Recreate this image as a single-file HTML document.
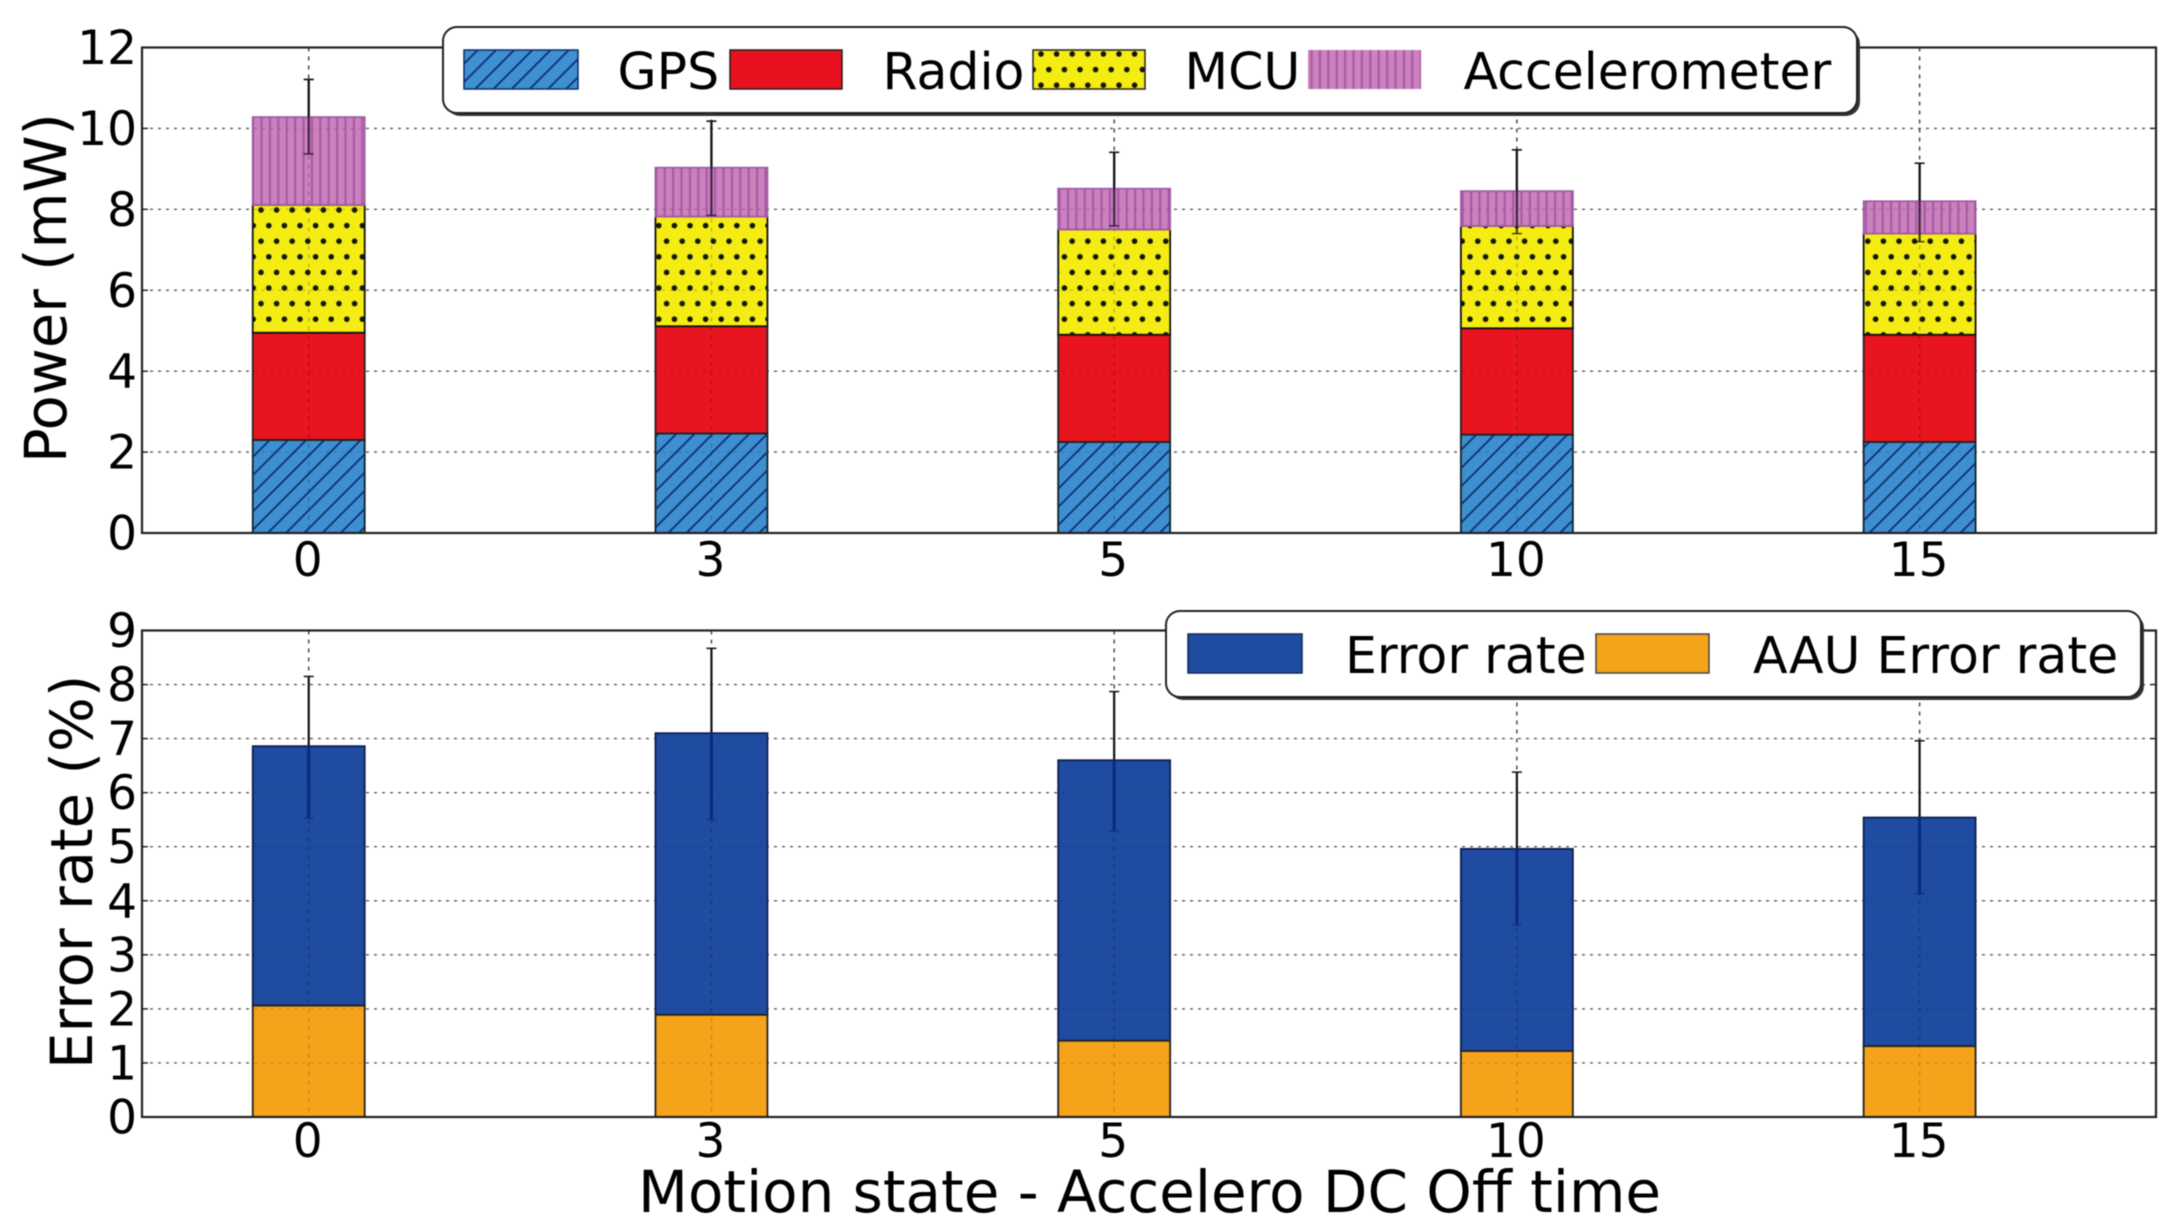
<!DOCTYPE html>
<html lang="en">
<head>
<meta charset="utf-8">
<title>Power and error rate vs accelerometer duty-cycle off time</title>
<style>
  html, body { margin: 0; padding: 0; background: #ffffff; }
  svg { display: block; filter: blur(0.6px); }
  text { font-family: "DejaVu Sans", "Liberation Sans", sans-serif; fill: #000; }
</style>
</head>
<body>
<svg id="figure" xmlns="http://www.w3.org/2000/svg" width="2179" height="1231" viewBox="0 0 2179 1231">
  <defs>
    <pattern id="hatch-gps" patternUnits="userSpaceOnUse" width="18.2" height="18.2">
      <path d="M-3,3 L3,-3 M0,18.2 L18.2,0 M15.2,21.2 L21.2,15.2" stroke="#0b2f6b" stroke-width="1.8" fill="none"/>
    </pattern>
    <pattern id="hatch-mcu" patternUnits="userSpaceOnUse" width="15.6" height="31.2" patternTransform="translate(257.1,202.2)">
      <circle cx="3.9" cy="7.8" r="2.8" fill="#15150a"/>
      <circle cx="11.7" cy="23.4" r="2.8" fill="#15150a"/>
    </pattern>
    <pattern id="hatch-accel" patternUnits="userSpaceOnUse" width="8.4" height="8.4">
      <rect x="0" y="0" width="2.2" height="8.4" fill="#a04aa0" fill-opacity="0.75"/>
    </pattern>
  </defs>
  <rect x="0" y="0" width="2179" height="1231" fill="#ffffff"/>
  <g id="power-chart"></g>
  <g id="error-chart"></g>

  <text transform="translate(66,463) rotate(-90)" font-size="57.5">Power (mW)</text>
  <text transform="translate(92,1069) rotate(-90)" font-size="57.7">Error rate (%)</text>
  <text x="638" y="1212" font-size="57.9">Motion state - Accelero DC Off time</text>

  <g>
    <rect x="446" y="30" width="1414" height="86" rx="14" fill="#333333"/>
    <rect x="443" y="27" width="1414" height="86" rx="14" fill="#ffffff" stroke="#222" stroke-width="2"/>
    <g>
      <rect x="464" y="50" width="114" height="39" fill="#3f8fd2"/>
      <rect x="464" y="50" width="114" height="39" fill="url(#hatch-gps)" stroke="#0b2f6b" stroke-width="1.5"/>
      <text x="617.5" y="89" font-size="50.5">GPS</text>
    </g>
    <g>
      <rect x="730" y="50" width="112" height="39" fill="#e8111f" stroke="#222" stroke-width="1.5"/>
      <text x="882.5" y="89" font-size="50.5">Radio</text>
    </g>
    <g>
      <rect x="1033" y="50" width="112" height="39" fill="#f5ec12"/>
      <rect x="1033" y="50" width="112" height="39" fill="url(#hatch-mcu)" stroke="#222" stroke-width="1.5"/>
      <text x="1184.5" y="89" font-size="50.5">MCU</text>
    </g>
    <g>
      <rect x="1308" y="50" width="113" height="39" fill="#cb82bd"/>
      <rect x="1308" y="50" width="113" height="39" fill="url(#hatch-accel)"/>
      <text x="1463.5" y="89" font-size="50.5">Accelerometer</text>
    </g>
  </g>

  <g>
    <rect x="1169" y="614" width="975" height="86" rx="14" fill="#333333"/>
    <rect x="1166" y="611" width="975" height="86" rx="14" fill="#ffffff" stroke="#222" stroke-width="2"/>
    <g>
      <rect x="1188" y="634" width="114" height="39" fill="#1f4ca0" stroke="#10285a" stroke-width="1.5"/>
      <text x="1345" y="673" font-size="50.5">Error rate</text>
    </g>
    <g>
      <rect x="1596" y="634" width="113" height="39" fill="#f5a31a" stroke="#444" stroke-width="1.5"/>
      <text x="1753" y="673" font-size="50.5">AAU Error rate</text>
    </g>
  </g>
</svg>

<script>
const categories = ['0', '3', '5', '10', '15'];

const gpsPower = [2.30, 2.46, 2.25, 2.43, 2.25];
const radioPower = [2.65, 2.65, 2.65, 2.63, 2.65];
const mcuPower = [3.16, 2.71, 2.60, 2.53, 2.50];
const accelPower = [2.17, 1.21, 1.01, 0.86, 0.80];
const powerErrLow = [9.37, 7.85, 7.59, 7.40, 7.20];
const powerErrHigh = [11.21, 10.18, 9.41, 9.47, 9.14];
const powerTicks = [0, 2, 4, 6, 8, 10, 12];

const errorRate = [6.86, 7.10, 6.60, 4.96, 5.54];
const aauErrorRate = [2.06, 1.89, 1.41, 1.22, 1.31];
const rateErrLow = [5.53, 5.50, 5.29, 3.55, 4.13];
const rateErrHigh = [8.15, 8.67, 7.87, 6.38, 6.96];
const rateTicks = [0, 1, 2, 3, 4, 5, 6, 7, 8, 9];

const NS = 'http://www.w3.org/2000/svg';
const plotLeft = 142, plotRight = 2156;
const barWidthIdx = 0.278;
const xDomain = [-0.414, 4.587];

function xPos(i) {
  return plotLeft + (i - xDomain[0]) / (xDomain[1] - xDomain[0]) * (plotRight - plotLeft);
}
function makeY(top, bottom, max) {
  return function (v) { return bottom - v / max * (bottom - top); };
}
function mk(parent, tag, attrs, text) {
  const el = document.createElementNS(NS, tag);
  for (const k in attrs) el.setAttribute(k, attrs[k]);
  if (text !== undefined) el.textContent = text;
  parent.appendChild(el);
  return el;
}
function drawGrid(g, y, ticks, top, bottom, opacity) {
  ticks.forEach(function (t) {
    if (t === ticks[0] || t === ticks[ticks.length - 1]) return;
    const el = mk(g, 'line', { x1: plotLeft, x2: plotRight, y1: y(t), y2: y(t), stroke: '#555555', 'stroke-width': 1.4, 'stroke-dasharray': '3 5', 'stroke-opacity': opacity });
    
    
  });
  categories.forEach(function (c, i) {
    const el = mk(g, 'line', { x1: xPos(i), x2: xPos(i), y1: top, y2: bottom, stroke: '#333333', 'stroke-width': 1.4, 'stroke-dasharray': '4 5', 'stroke-opacity': opacity });
    
    
  });
}
function drawErrorBar(g, i, y, lo, hi, color, opacity) {
  const cx = xPos(i);
  const line = mk(g, 'line', { x1: cx, x2: cx, y1: y(lo), y2: y(hi), stroke: color, 'stroke-width': 2.2, 'stroke-opacity': opacity });
  
  
  const capHi = mk(g, 'line', { x1: cx - 5, x2: cx + 5, y1: y(hi), y2: y(hi), stroke: color, 'stroke-width': 1.5, 'stroke-opacity': opacity });
  
  
  const capLo = mk(g, 'line', { x1: cx - 5, x2: cx + 5, y1: y(lo), y2: y(lo), stroke: color, 'stroke-width': 1.5, 'stroke-opacity': opacity });
  
  
}
function drawSegment(g, i, y, base, val, fill, hatch, edge, name) {
  const w = barWidthIdx * (xPos(1) - xPos(0));
  const px = xPos(i) - w / 2;
  const py = y(base + val);
  const h = y(base) - y(base + val);
  const r = mk(g, 'rect', { x: px, y: py, width: w, height: h, fill: fill, 'fill-opacity': 0.92, stroke: edge, 'stroke-width': 1.8 });
  
  
  if (hatch) {
    const o = mk(g, 'rect', { x: px, y: py, width: w, height: h, fill: hatch });
    
    
  }
}
function drawAxes(g, y, ticks, top, bottom, tickBaseline) {
  const frame = mk(g, 'rect', { x: plotLeft, y: top, width: plotRight - plotLeft, height: bottom - top, fill: 'none', stroke: '#222', 'stroke-width': 2.2 });
  
  
  ticks.forEach(function (t) {
    const lab = mk(g, 'text', { x: 137, y: y(t) + 16.5, 'font-size': 47, 'text-anchor': 'end' }, String(t));
    
    
    const tl = mk(g, 'line', { x1: plotLeft, x2: plotLeft + 6, y1: y(t), y2: y(t), stroke: '#222', 'stroke-width': 1.4 });
    
    
    const tr = mk(g, 'line', { x1: plotRight - 6, x2: plotRight, y1: y(t), y2: y(t), stroke: '#222', 'stroke-width': 1.4 });
    
    
  });
  categories.forEach(function (c, i) {
    const lab = mk(g, 'text', { x: xPos(i) - 1, y: tickBaseline, 'font-size': 47, 'text-anchor': 'middle' }, c);
    
    
  });
}

/* Power chart */
(function () {
  const g = document.getElementById('power-chart');
  const top = 47.5, bottom = 533;
  const y = makeY(top, bottom, 12);
  drawGrid(g, y, powerTicks, top, bottom, 0.9);
  categories.forEach(function (c, i) {
    drawErrorBar(g, i, y, powerErrLow[i], powerErrHigh[i], '#111', 1);
  });
  categories.forEach(function (c, i) {
    let base = 0;
    drawSegment(g, i, y, base, gpsPower[i], '#2e85ce', 'url(#hatch-gps)', '#122', 'bar-gps');
    base += gpsPower[i];
    drawSegment(g, i, y, base, radioPower[i], '#e6000c', null, '#222', 'bar-radio');
    base += radioPower[i];
    drawSegment(g, i, y, base, mcuPower[i], '#f4ea00', 'url(#hatch-mcu)', '#111', 'bar-mcu');
    base += mcuPower[i];
    drawSegment(g, i, y, base, accelPower[i], '#c677b7', 'url(#hatch-accel)', '#a060a8', 'bar-accelerometer');
  });
  drawGrid(g, y, powerTicks, top, bottom, 0.22);
  categories.forEach(function (c, i) {
    drawErrorBar(g, i, y, powerErrLow[i], powerErrHigh[i], '#1a1020', 0.75);
  });
  drawAxes(g, y, powerTicks, top, bottom, 576);
})();

/* Error rate chart */
(function () {
  const g = document.getElementById('error-chart');
  const top = 630.5, bottom = 1117;
  const y = makeY(top, bottom, 9);
  drawGrid(g, y, rateTicks, top, bottom, 0.9);
  categories.forEach(function (c, i) {
    drawErrorBar(g, i, y, rateErrLow[i], rateErrHigh[i], '#111', 1);
  });
  categories.forEach(function (c, i) {
    drawSegment(g, i, y, aauErrorRate[i], errorRate[i] - aauErrorRate[i], '#0c3c98', null, '#0c2050', 'bar-error-rate');
    drawSegment(g, i, y, 0, aauErrorRate[i], '#f49b06', null, '#222', 'bar-aau-error-rate');
  });
  drawGrid(g, y, rateTicks, top, bottom, 0.14);
  categories.forEach(function (c, i) {
    const inner = mk(g, 'line', { x1: xPos(i), x2: xPos(i), y1: y(rateErrLow[i]), y2: y(errorRate[i]), stroke: '#0a2a80', 'stroke-width': 3 });
    
    
  });
  drawAxes(g, y, rateTicks, top, bottom, 1157);
})();
</script>
</body>
</html>
